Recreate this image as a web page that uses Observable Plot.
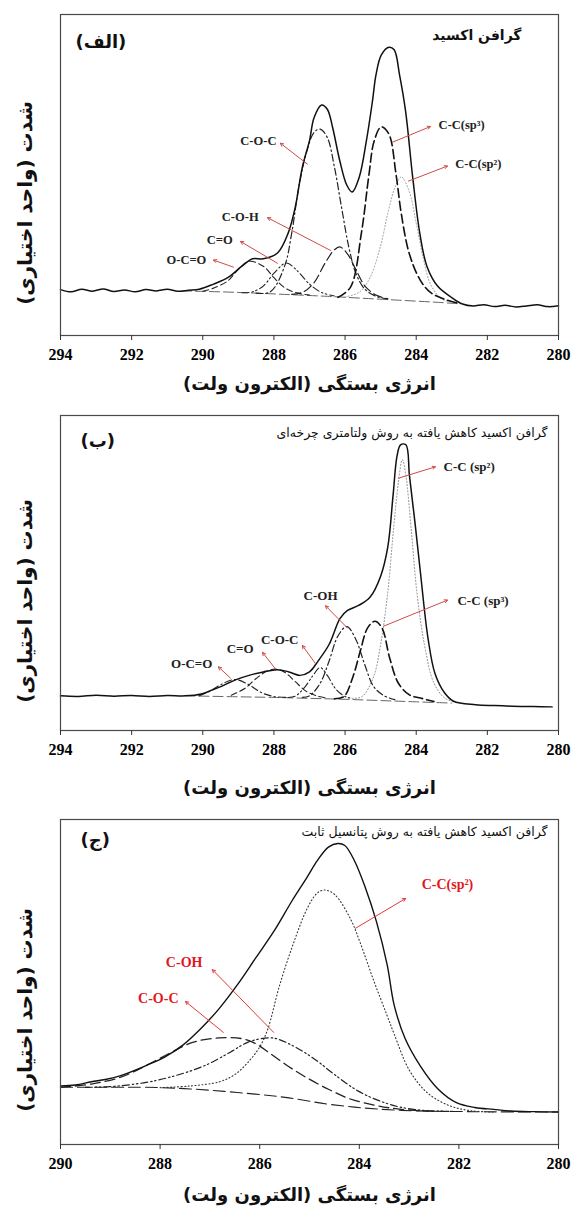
<!DOCTYPE html>
<html><head><meta charset="utf-8">
<script src="https://cdn.jsdelivr.net/npm/d3@7"></script>
<script src="https://cdn.jsdelivr.net/npm/@observablehq/plot@0.6"></script>
<style>
body{margin:0;background:#fff}
#c svg{display:block}
</style>
</head><body><div id="c"></div>
<script>
// ---------------- DATA ----------------
// Panel A (الف) — graphene oxide. [binding energy eV, intensity a.u.]
const a_ticks = [294, 292, 290, 288, 286, 284, 282, 280];
const a_envelope = [[294.0,14.3],[293.7,13.6],[293.4,14.4],[293.1,13.8],[292.8,14.5],[292.5,13.7],[292.2,14.2],[291.9,13.6],[291.6,14.3],[291.3,13.9],[291.0,14.4],[290.7,13.8],[290.4,14.1],[290.1,14.4],[289.7,16.0],[289.3,18.0],[288.9,21.6],[288.6,23.9],[288.3,23.9],[287.9,25.7],[287.6,31.9],[287.4,40.0],[287.2,52.5],[287.0,60.7],[286.87,67.9],[286.66,71.8],[286.5,70.5],[286.35,64.8],[286.15,54.5],[285.95,46.8],[285.8,44.7],[285.6,49.4],[285.4,60.7],[285.23,73.0],[285.13,81.3],[284.98,87.4],[284.77,89.8],[284.62,89.0],[284.47,81.3],[284.3,70.0],[284.1,49.4],[283.9,31.9],[283.7,21.6],[283.4,15.4],[283.0,11.8],[282.7,9.8],[282.4,9.2],[282.1,9.6],[281.8,9.0],[281.5,9.4],[281.2,8.9],[280.9,9.2],[280.6,9.6],[280.3,9.0],[280.0,9.3]];
const a_bg = [[290.6,13.9],[289.5,13.6],[288.5,13.2],[287.5,12.7],[286.5,12.2],[285.5,11.6],[284.5,11.0],[283.5,10.4],[282.8,9.9]];
const a_OCO = [[290.0,13.8],[289.73,14.6],[289.3,17.0],[289.0,20.6],[288.7,23.1],[288.3,21.6],[288.0,18.0],[287.7,14.9],[287.4,13.4],[287.0,12.6]];
const a_CO = [[288.9,13.3],[288.6,13.6],[288.3,15.4],[287.99,19.5],[287.65,22.6],[287.33,20.0],[287.0,16.0],[286.66,13.4],[286.3,12.3]];
const a_COH = [[287.5,12.8],[287.17,13.6],[286.87,16.5],[286.56,22.6],[286.3,26.7],[286.15,27.6],[285.95,25.7],[285.7,20.6],[285.44,15.4],[285.13,12.6],[284.8,11.4]];
const a_COC = [[288.5,13.2],[288.1,13.6],[287.7,21.6],[287.5,31.9],[287.3,46.3],[287.07,57.6],[286.87,63.3],[286.7,64.3],[286.5,61.7],[286.3,52.5],[286.1,40.0],[285.9,27.8],[285.7,19.5],[285.44,14.4],[285.1,12.1],[284.8,11.4]];
const a_sp3 = [[286.2,11.9],[285.85,15.0],[285.54,32.0],[285.33,50.0],[285.18,60.7],[284.98,65.0],[284.77,62.8],[284.57,50.4],[284.42,38.0],[284.2,25.7],[283.9,17.5],[283.6,13.4],[283.2,11.3],[282.8,10.0]];
const a_sp2 = [[286.0,12.0],[285.6,13.5],[285.3,18.0],[285.0,28.0],[284.8,38.0],[284.6,46.0],[284.42,49.4],[284.2,45.0],[284.0,35.0],[283.8,24.0],[283.6,16.0],[283.3,11.5],[283.0,10.3]];
const a_labels = ["C-O-C", "C-C(sp³)", "C-C(sp²)", "C-O-H", "C=O", "O-C=O"];
const a_tail = [[287.06,53.4],[284.67,60.2],[284.22,48.1],[286.41,26.5],[287.9,22.5],[289.14,21.3]];
const a_head = [[287.82,59.9],[283.6,65.1],[283.12,52.8],[288.18,36.7],[288.94,29.3],[289.7,23.5]];
const a_text = [[287.93,60.5],[283.37,65.7],[282.9,53.4],[288.43,37.0],[289.16,29.9],[289.9,23.5]];

// Panel B (ب) — reduced by cyclic voltammetry
const b_ticks = [294, 292, 290, 288, 286, 284, 282, 280];
const b_envelope = [[294.0,11.0],[293.5,10.8],[293.0,11.2],[292.5,10.9],[292.0,11.1],[291.5,10.8],[291.0,11.1],[290.5,11.0],[290.04,11.6],[289.73,12.9],[289.4,14.4],[289.1,16.0],[288.7,17.5],[288.3,18.6],[287.9,19.3],[287.58,18.6],[287.27,17.5],[287.0,18.6],[286.75,22.2],[286.45,27.3],[286.14,35.6],[285.93,38.1],[285.62,39.7],[285.3,42.3],[285.0,49.0],[284.8,58.2],[284.65,74.7],[284.54,87.1],[284.44,90.7],[284.29,90.7],[284.19,80.9],[284.03,65.5],[283.88,50.0],[283.67,29.4],[283.47,18.0],[283.2,11.9],[282.95,9.3],[282.33,8.2],[281.8,7.9],[281.3,7.7],[280.7,7.6],[280.18,7.5]];
const b_bg = [[290.5,11.0],[289,10.7],[288,10.5],[287,10.2],[286,9.9],[285,9.5],[284,9.1],[283,8.7]];
const b_OCO = [[290.1,11.0],[289.8,12.5],[289.5,14.5],[289.1,16.2],[288.7,14.5],[288.35,12.0],[288.0,10.8],[287.6,10.5]];
const b_CO = [[289.2,11.2],[288.8,13.5],[288.5,16.5],[288.2,18.8],[287.95,19.5],[287.7,18.5],[287.4,15.5],[287.1,12.5],[286.8,11.0],[286.5,10.3]];
const b_COC = [[287.6,10.5],[287.4,10.9],[287.15,13.5],[286.9,17.5],[286.7,20.0],[286.5,17.5],[286.25,13.0],[286.0,10.8],[285.8,10.2]];
const b_COH = [[287.2,10.5],[287.0,11.0],[286.7,15.0],[286.45,22.0],[286.2,30.0],[285.95,33.0],[285.7,29.0],[285.45,21.0],[285.2,14.0],[284.9,11.0],[284.6,9.8]];
const b_sp3 = [[286.3,10.1],[286.03,10.8],[285.78,17.0],[285.57,25.3],[285.37,32.5],[285.16,34.7],[284.96,32.5],[284.75,23.2],[284.5,15.0],[284.19,11.3],[283.88,10.3],[283.5,9.2]];
const b_sp2 = [[285.8,10.2],[285.52,10.8],[285.2,17.0],[285.0,27.3],[284.8,43.8],[284.65,62.4],[284.5,78.9],[284.39,86.0],[284.29,80.9],[284.13,62.4],[283.98,43.8],[283.77,27.3],[283.5,15.0],[283.2,10.3],[282.9,9.0]];
const b_labels = ["C-C (sp²)", "C-C (sp³)", "C-OH", "C-O-C", "C=O", "O-C=O"];
const b_tail = [[284.5,80.1],[284.92,33.1],[285.93,32.5],[286.83,21.2],[287.96,19.6],[289.22,16.6]];
const b_head = [[283.46,83.7],[283.12,41.4],[286.55,39.6],[287.2,27.0],[288.32,24.8],[289.56,20.2]];
const b_text = [[283.23,83.7],[282.84,41.1],[286.69,42.6],[287.31,28.8],[288.57,25.8],[289.73,21.2]];

// Panel C (ج) — reduced at constant potential
const c_ticks = [290, 288, 286, 284, 282, 280];
const c_envelope = [[290.0,18.0],[289.7,18.3],[289.38,19.3],[289.1,20.0],[288.79,21.2],[288.28,24.3],[287.91,26.9],[287.55,30.5],[287.18,35.7],[286.81,41.9],[286.45,49.1],[286.08,57.4],[285.71,65.7],[285.35,75.0],[285.05,82.2],[284.84,87.4],[284.62,91.5],[284.43,92.6],[284.29,92.0],[284.1,87.4],[283.88,79.1],[283.66,68.8],[283.44,55.3],[283.3,42.9],[283.08,32.6],[282.78,24.3],[282.42,17.1],[282.05,12.9],[281.68,11.4],[281.3,10.8],[280.95,10.3],[280.5,10.1],[280.0,10.0]];
const c_bg = [[290.0,17.6],[289.0,17.6],[288.28,17.6],[287.4,17.1],[286.45,16.0],[285.49,14.5],[284.62,12.4],[283.88,11.2],[283.15,10.5],[281.68,10.1],[280.0,10.0]];
const c_COC = [[290.0,17.6],[289.38,18.6],[288.79,20.7],[288.28,24.3],[287.77,28.4],[287.33,31.5],[286.81,32.8],[286.37,32.6],[286.08,31.0],[285.79,28.0],[285.42,24.0],[285.05,20.5],[284.62,17.0],[284.18,14.0],[283.66,12.0],[283.15,10.8],[282.5,10.2]];
const c_COH = [[289.5,17.6],[289.01,17.8],[288.28,19.1],[287.69,21.2],[287.1,24.3],[286.59,28.4],[286.23,31.5],[285.75,32.8],[285.35,30.5],[284.91,26.4],[284.47,21.2],[284.03,16.5],[283.59,13.4],[283.15,11.4],[282.71,10.5],[282.2,10.2]];
const c_sp2 = [[288.0,17.5],[287.4,18.0],[286.81,19.3],[286.5,21.5],[286.24,25.2],[286.0,30.0],[285.84,35.4],[285.6,49.0],[285.32,62.0],[285.05,72.5],[284.85,77.3],[284.7,78.3],[284.5,77.0],[284.18,69.5],[283.98,62.0],[283.7,50.0],[283.45,40.0],[283.3,34.0],[283.0,23.0],[282.64,16.0],[282.2,12.0],[281.76,10.4],[281.3,10.0]];
const c_labels = ["C-C(sp²)", "C-OH", "C-O-C"];
const c_tail = [[284.08,66.5],[285.72,34.5],[286.73,34.5]];
const c_head = [[283.07,75.7],[286.95,53.8],[287.49,44.0]];
const c_text = [[282.23,80.0],[287.15,56.0],[287.63,44.9]];

// Texts
const yTitle = "شدت (واحد اختیاری)";
const xTitle = "انرژی بستگی (الکترون ولت)";
const panelTags = ["(الف)", "(ب)", "(ج)"];
const panelTitles = ["گرافن اکسید", "گرافن اکسید کاهش یافته به روش ولتامتری چرخه\u200cای", "گرافن اکسید کاهش یافته به روش پتانسیل ثابت"];

// ---------------- DRAWING ----------------
const rtl = s => "\u202B" + s + "\u202C";
const FA = "DejaVu Sans";
const FS = "Liberation Serif, Times New Roman, serif";
const DOT = "1,2.2", LDASH = "9,4", DASH = "6,3.5", DD = "7,3,1.5,3", DDD = "7,3,1.5,2.5,1.5,3";

function ln(data, dash, stroke = "#111", w = 1.2) {
  return Plot.line(data, {x: d => d[0], y: d => d[1], stroke, strokeWidth: w, strokeDasharray: dash, curve: "catmull-rom"});
}
function annot(labels, tail, head, text) {
  return labels.map((l, i) => ({label: l, x1: tail[i][0], y1: tail[i][1], x2: head[i][0], y2: head[i][1], tx: text[i][0], ty: text[i][1]}));
}

function panel(cfg) {
  const ann = annot(cfg.labels, cfg.tail, cfg.head, cfg.text);
  const textMarks = ["start", "middle", "end"].map(anchor =>
    Plot.text(ann.filter(d => cfg.anchors[d.label] === anchor), {
      x: "tx", y: "ty", text: "label", textAnchor: anchor, fill: cfg.labelColor,
      fontFamily: FS, fontWeight: "bold", fontSize: cfg.labelSize
    }));
  return Plot.plot({
    width: 571, height: cfg.height,
    marginLeft: 60, marginRight: 13, marginTop: cfg.mt, marginBottom: cfg.mb,
    x: {domain: cfg.domain},
    y: {domain: [0, 100], axis: null},
    style: {background: "#fff", overflow: "visible"},
    marks: [
      ...cfg.curves,
      Plot.frame({stroke: "#4a4a4a", strokeWidth: 1.2}),
      Plot.axisX({ticks: cfg.ticks, tickSize: 5, tickPadding: 8, tickFormat: d => String(d), label: null,
        fontSize: 16, fontWeight: "bold", fontFamily: FS, stroke: "#333"}),
      Plot.arrow(ann, {x1: "x1", y1: "y1", x2: "x2", y2: "y2", stroke: cfg.arrowColor, strokeWidth: 1, headLength: 5, headAngle: 55}),
      ...textMarks,
      Plot.text([rtl(yTitle)], {frameAnchor: "left", dx: -35, dy: 28, rotate: -90, textAnchor: "middle", lineAnchor: "middle", fontFamily: FA, fontWeight: "bold", fontSize: 20, fill: "#111"}),
      Plot.text([rtl(xTitle)], {frameAnchor: "bottom", dy: cfg.xTitleDy, lineAnchor: "middle", fontFamily: FA, fontWeight: "bold", fontSize: 18, fill: "#111"}),
      Plot.text([rtl(cfg.tag)], {frameAnchor: "top-left", dx: cfg.tagDx, dy: cfg.tagDy, lineAnchor: "middle", textAnchor: "start", fontFamily: FA, fontWeight: "bold", fontSize: 18, fill: "#111"}),
      Plot.text([rtl(cfg.title)], {frameAnchor: "top-right", dx: cfg.titleDx, dy: cfg.titleDy, lineAnchor: "middle", textAnchor: "end", fontFamily: FA, fontWeight: cfg.titleWeight, fontSize: cfg.titleSize, fill: "#111"})
    ]
  });
}

const root = document.getElementById("c");

root.append(panel({
  height: 405, mt: 14, mb: 70, domain: [294, 280], ticks: a_ticks, xTitleDy: 49,
  curves: [
    ln(a_bg, "10,4", "#666", 1),
    ln(a_sp2, DOT, "#999", 1),
    ln(a_OCO, DASH, "#222", 1.1),
    ln(a_CO, DDD, "#222", 1.1),
    ln(a_COH, LDASH, "#222", 1.2),
    ln(a_COC, DD, "#222", 1.2),
    ln(a_sp3, LDASH, "#111", 1.6),
    ln(a_envelope, null, "#111", 1.5)
  ],
  labels: a_labels, tail: a_tail, head: a_head, text: a_text,
  anchors: {"C-O-C": "end", "C-C(sp³)": "start", "C-C(sp²)": "start", "C-O-H": "end", "C=O": "end", "O-C=O": "end"},
  labelColor: "#222", labelSize: 12.5, arrowColor: "#cf4a4a",
  tag: panelTags[0], tagDx: 15, tagDy: 28,
  title: panelTitles[0], titleDx: -37, titleDy: 21, titleSize: 14, titleWeight: "bold"
}));

root.append(panel({
  height: 405, mt: 10, mb: 80, domain: [294, 280], ticks: b_ticks, xTitleDy: 58,
  curves: [
    ln(b_bg, "10,4", "#666", 1),
    ln(b_sp2, DOT, "#888", 1),
    ln(b_OCO, DD, "#222", 1.1),
    ln(b_CO, DASH, "#222", 1.1),
    ln(b_COC, DDD, "#222", 1.1),
    ln(b_COH, DD, "#222", 1.2),
    ln(b_sp3, LDASH, "#111", 1.6),
    ln(b_envelope, null, "#111", 1.5)
  ],
  labels: b_labels, tail: b_tail, head: b_head, text: b_text,
  anchors: {"C-C (sp²)": "start", "C-C (sp³)": "start", "C-OH": "middle", "C-O-C": "end", "C=O": "end", "O-C=O": "end"},
  labelColor: "#222", labelSize: 13, arrowColor: "#cf4a4a",
  tag: panelTags[1], tagDx: 20, tagDy: 26,
  title: panelTitles[1], titleDx: -11, titleDy: 17, titleSize: 12.5, titleWeight: "normal"
}));

root.append(panel({
  height: 400, mt: 9, mb: 66, domain: [290, 280], ticks: c_ticks, xTitleDy: 51,
  curves: [
    ln(c_bg, "12,5", "#222", 1.1),
    ln(c_sp2, "1,2.5", "#333", 1.1),
    ln(c_COC, "10,5", "#222", 1.3),
    ln(c_COH, DDD, "#222", 1.2),
    ln(c_envelope, null, "#111", 1.4)
  ],
  labels: c_labels, tail: c_tail, head: c_head, text: c_text,
  anchors: {"C-C(sp²)": "middle", "C-OH": "end", "C-O-C": "end"},
  labelColor: "#e3161d", labelSize: 14, arrowColor: "#e23a3a",
  tag: panelTags[2], tagDx: 20, tagDy: 21,
  title: panelTitles[2], titleDx: -11, titleDy: 12.5, titleSize: 12.5, titleWeight: "normal"
}));
</script></body></html>
